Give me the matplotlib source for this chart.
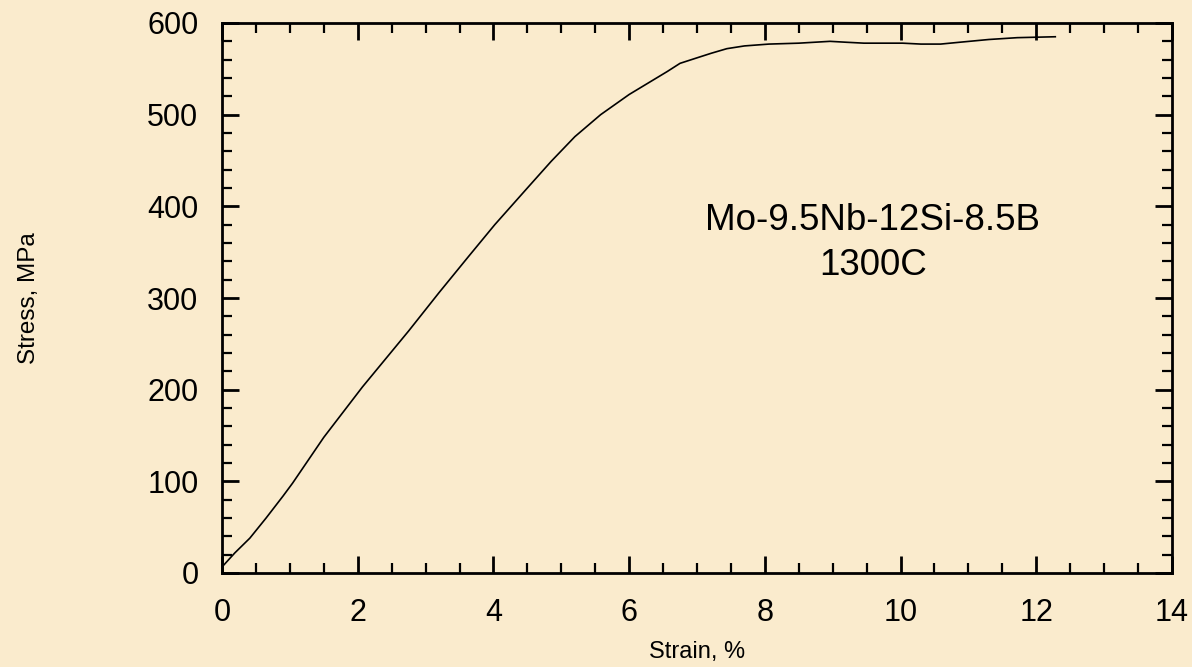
import matplotlib
matplotlib.use("Agg")
import matplotlib.pyplot as plt
import matplotlib.ticker as mticker

plt.rcParams.update({"font.family": ["Liberation Sans", "DejaVu Sans"]})

# stress-strain curve
strain = [0.03, 0.19, 0.41, 0.65, 0.9, 1.04, 1.5, 2.07, 2.75, 3.2, 3.63, 4.02,
          4.5, 4.85, 5.2, 5.58, 6.0, 6.56, 6.75, 7.0, 7.21, 7.44, 7.7, 8.06,
          8.5, 8.96, 9.2, 9.46, 10.03, 10.3, 10.59, 10.87, 11.3, 11.72, 12.28]
stress = [9, 22, 38, 60, 84, 98, 148, 203, 264, 306, 345, 380,
          420, 449, 476, 500, 522, 547, 556, 562, 567, 572, 575, 577,
          578, 580, 579, 578, 578, 577, 577, 579, 582, 584, 585]

x_ticks = [0, 2, 4, 6, 8, 10, 12, 14]
y_ticks = [0, 100, 200, 300, 400, 500, 600]
label_lines = ["Mo-9.5Nb-12Si-8.5B", "1300C"]

BG = "#FAEBCD"

fig = plt.figure(figsize=(11.92, 6.67), dpi=100, facecolor=BG)
ax = fig.add_axes([222/1192, 94/667, 950/1192, 550/667], facecolor=BG)

ax.plot(strain, stress, color="black", lw=1.2)

ax.set_xlim(0, 14)
ax.set_ylim(0, 600)
ax.set_xticks(x_ticks)
ax.set_yticks(y_ticks)
ax.xaxis.set_minor_locator(mticker.MultipleLocator(0.5))
ax.yaxis.set_minor_locator(mticker.MultipleLocator(20))

for s in ax.spines.values():
    s.set_linewidth(2)

ax.tick_params(which="both", direction="in", top=True, right=True, color="black")
ax.tick_params(which="major", length=12, width=2, labelsize=22)
ax.tick_params(which="minor", length=7, width=1.6)
ax.tick_params(axis="x", which="major", pad=18)
ax.tick_params(axis="y", which="major", pad=17)

ax.set_xlabel("Strain, %", fontsize=17)
ax.xaxis.set_label_coords(0.5, -0.123)
ax.set_ylabel("Stress, MPa", fontsize=17.5)
ax.yaxis.set_label_coords(-0.1916, 0.5)

ax.text(9.59, 360, "\n".join(label_lines), ha="center", va="center",
        fontsize=26.5, linespacing=1.4)

fig.savefig("out.png", dpi=100, facecolor=BG)
